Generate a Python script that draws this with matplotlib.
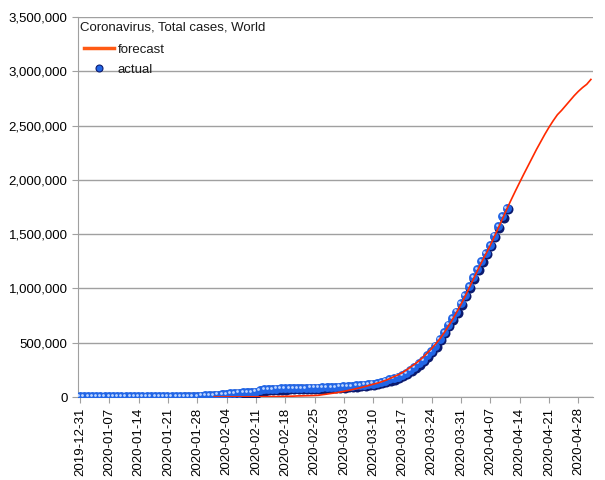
import numpy as np
import pandas as pd
import matplotlib
matplotlib.use("Agg")
import matplotlib.pyplot as plt
import matplotlib.ticker as mticker
import matplotlib.transforms as mtrans
from matplotlib.lines import Line2D

plt.rcParams['font.family'] = ['Liberation Sans', 'DejaVu Sans']

title = "Coronavirus, Total cases, World"
axis_start = "2019-12-31"
axis_end = "2020-05-01"

actual_start = "2019-12-31"
actual_values = [
    27, 27, 44, 44, 59, 59, 59, 59, 59, 59, 59, 59, 60, 60, 61, 61, 66, 83,
    219, 239, 392, 534, 631, 897, 1350, 2023, 2820, 4587, 6067, 7823, 9826,
    11946, 14554, 17372, 20615, 24522, 28273, 31491, 34933, 37552, 40553,
    43099, 45170, 60328, 64543, 67103, 69265, 71332, 73327, 75191, 75723,
    76719, 77804, 78812, 79339, 80132, 80995, 82101, 83365, 85203, 87024,
    89068, 90664, 93077, 95316, 98172, 102133, 105824, 109695, 114232,
    118610, 125497, 133852, 145205, 156101, 167454, 181574, 197102, 214821,
    242570, 272208, 304507, 336953, 378235, 418045, 467653, 529591, 593291,
    660706, 720117, 782365, 857487, 932605, 1013157, 1095917, 1176060,
    1249754, 1321481, 1396476, 1480202, 1565278, 1657526, 1735650,
]

forecast_start = "2020-02-01"
forecast_values = [
    0, 0, 0, 1000, 1000, 1000, 1000, 1000, 2000, 2000,
    2000, 2000, 3000, 3000, 4000, 4000, 5000, 6000, 7000, 8000,
    10000, 11000, 12000, 13000, 14000, 16000, 22000, 27000, 33000,
    38000, 45000, 52000, 60000, 68000, 77000, 86000, 96000, 107000, 118000,
    128000, 140000, 154000, 170000, 188000, 205000, 225000, 250000, 278000, 305000,
    335000, 370000, 408000, 448000, 492000, 540000, 595000, 655000, 718000, 785000, 855000,
    932000, 1010000, 1092000, 1172000, 1250000, 1323000, 1400000, 1482000, 1566000, 1652000, 1738000,
    1820000, 1900000, 1978000, 2055000, 2130000, 2205000, 2280000, 2350000, 2420000,
    2485000, 2545000, 2600000, 2640000, 2685000, 2730000, 2775000, 2815000, 2850000, 2880000, 2925000,
]

y_max = 3500000
y_step = 500000

t0 = pd.Timestamp(axis_start)
n_days = (pd.Timestamp(axis_end) - t0).days
tick_dates = pd.date_range(axis_start, axis_end, freq="7D")
tick_labels = [d.strftime("%Y-%m-%d") for d in tick_dates]

act_x = np.arange(len(actual_values)) + (pd.Timestamp(actual_start) - t0).days
fc_x = np.arange(len(forecast_values)) + (pd.Timestamp(forecast_start) - t0).days

W, H = 605, 480
fig = plt.figure(figsize=(W/100, H/100), dpi=100)
ax = fig.add_axes([78/W, 1-397/H, (593-78)/W, (397-17)/H])

grid_c = "#a0a0a0"
ax.set_ylim(0, y_max)
ax.set_xlim(-0.5, n_days + 0.5)
ax.yaxis.set_major_locator(mticker.MultipleLocator(y_step))
ax.yaxis.set_major_formatter(mticker.FuncFormatter(lambda v, p: f"{int(v):,}"))
ax.grid(axis="y", color=grid_c, lw=1.0)
ax.set_axisbelow(True)
for s in ["top", "right"]:
    ax.spines[s].set_visible(False)
for s in ["left", "bottom"]:
    ax.spines[s].set_color(grid_c)
ax.set_xticks([(d - t0).days for d in tick_dates])
ax.set_xticklabels(tick_labels, rotation=90)
ax.tick_params(axis="both", colors=grid_c, labelcolor="black", labelsize=9.5, length=4)

line_c = "#ff2a00"
leg_c = "#ff5a14"

# sphere-like markers
dark = "#0c1a6e"
blue = "#2266e6"
off0 = mtrans.ScaledTranslation(0.5/72, -0.5/72, fig.dpi_scale_trans)
off1 = mtrans.ScaledTranslation(-0.4/72, 0.4/72, fig.dpi_scale_trans)
off2 = mtrans.ScaledTranslation(-1.3/72, 1.3/72, fig.dpi_scale_trans)
ax.plot(act_x, actual_values, ls="none", marker="o", ms=7.2, mfc=dark, mec="none", zorder=3,
        transform=ax.transData + off0)
ax.plot(act_x, actual_values, ls="none", marker="o", ms=6.4, mfc=blue, mec="none", zorder=4,
        transform=ax.transData + off1)
ax.plot(act_x, actual_values, ls="none", marker="o", ms=2.0, mfc="#bcd4ff", mec="none", zorder=5,
        transform=ax.transData + off2)

ax.plot(fc_x, forecast_values, color=line_c, lw=1.2, zorder=6)

fig.text(80/W, 1-27/H, title, fontsize=9.5, va="center", ha="left", color="#1a1a1a")

h_fc = Line2D([], [], color=leg_c, lw=2.5)
h_act = Line2D([], [], ls="none", marker="o", ms=5.0, mfc=blue, mec=dark, mew=0.8)
leg = fig.legend([h_fc, h_act], ["forecast", "actual"], loc="upper left",
                 frameon=False, fontsize=9.5, handlelength=2.3,
                 handletextpad=0.25, borderaxespad=0.0, labelspacing=0.62,
                 bbox_to_anchor=(78.7/W, 1-38/H), bbox_transform=fig.transFigure)
for t in leg.get_texts():
    t.set_color("#1a1a1a")

fig.savefig("out.png", dpi=100)
